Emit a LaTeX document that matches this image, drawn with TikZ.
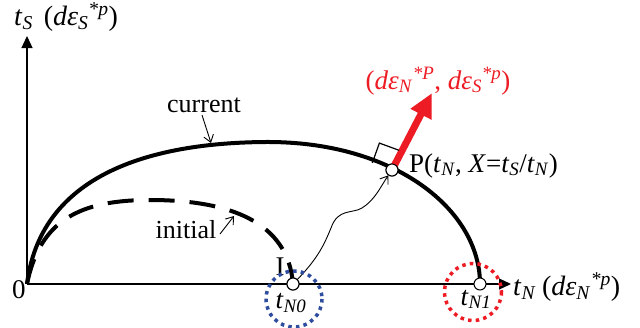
\documentclass[tikz,border=0pt]{standalone}
\usepackage{fontspec}
\setmainfont{Liberation Serif}
\usetikzlibrary{arrows.meta}
\definecolor{myred}{RGB}{237,28,36}
\definecolor{myblue}{RGB}{47,77,158}
\newcommand\ssub[1]{\textsubscript{\textit{#1}}}
\newcommand\ssup[1]{\textsuperscript{\textit{#1}}}
\begin{document}
\begin{tikzpicture}[x=1pt,y=-1pt,
  lbl/.style={inner sep=0pt,font=\fontsize{27}{31}\selectfont},
  axl/.style={inner sep=0pt,font=\fontsize{28}{32}\selectfont},
  bigl/.style={inner sep=0pt,font=\fontsize{26}{30}\selectfont},
  axis/.style={line width=1.3pt,-{Triangle[length=12pt,width=11pt]}},
  thinarrow/.style={line width=0.9pt,-{Straight Barb[length=7pt,width=10pt]}},
  pt/.style={circle,draw=black,fill=white,line width=1pt,minimum size=12pt,inner sep=0pt},
  dotring/.style={line width=3.5pt,dash pattern=on 3.5pt off 4.2pt},
]
\useasboundingbox (0,0) rectangle (640,327);
% axes
\coordinate (O) at (27,284);
\coordinate (xend) at (511,284);
\coordinate (yend) at (27,36);
\draw[axis] (O) -- (xend);
\draw[axis] (O) -- (yend);
% curves
\draw[line width=4pt] (O) .. controls (40,180) and (140,143) .. (265,142)
   .. controls (395,141) and (480,210) .. (480,284);
\draw[line width=4pt,dash pattern=on 26pt off 15pt] (O) .. controls (40,220) and (80,200) .. (150,200)
   .. controls (230,200) and (288,222) .. (293,284);
% points
\node[pt] (P) at (392,170) {};
\node[pt] (N0) at (293,284) {};
\node[pt] (N1) at (480,284) {};
% red arrow
\coordinate (T) at (432,93);
\draw[myred,line width=7pt,-{Triangle[length=24pt,width=22pt]}] (P.center) -- (T);
% right angle square
\draw[line width=1.2pt] (372.3,162.9) -- (379.4,143.1) -- (399.1,150.3);
\node[pt] at (P) {};
% wavy connector
\draw[thinarrow] (N0) .. controls (318,258) and (324,245) .. (331,228)
   .. controls (338,208) and (352,214) .. (362,208)
   .. controls (375,200) and (381,186) .. (P);
\node[pt] at (N0) {};
% labels
\node[bigl,anchor=base] (cur) at (204,112) {current};
\coordinate (curtip) at (211,143);
\draw[thinarrow] (202,115) -- (curtip);
\node[bigl,anchor=base] (ini) at (186,238) {initial};
\coordinate (initip) at (234,216);
\draw[thinarrow] (220,234) -- (initip);
\node[lbl,anchor=base] (zero) at (19,298) {0};
\node[lbl,anchor=base] (Ilab) at (280,275) {I};
\node[lbl,anchor=base west] (Plab) at (409,172) {P(\textit{t}\ssub{N}, \textit{X}=\textit{t}\ssub{S}/\textit{t}\ssub{N})};
\node[lbl,anchor=base,text=myred] (dlab) at (438,89) {(\textit{d}\textit{ε}\ssub{N}\ssup{*P}, \textit{d}\textit{ε}\ssub{S}\ssup{*p})};
\node[axl,anchor=base west] (ylab) at (14,25) {\textit{t}\ssub{S}\hspace{11pt}(\textit{dε}\ssub{S}\ssup{*p})};
\node[axl,anchor=base west] (xlab) at (513,295) {\textit{t}\ssub{N}\hspace{6pt}(\textit{dε}\ssub{N}\ssup{*p})};
\node[lbl,anchor=base] (tn0) at (291,308) {\textit{t}\ssub{N0}};
\node[lbl,anchor=base] (tn1) at (476,305) {\textit{t}\ssub{N1}};
% dotted rings
\draw[dotring,myblue] (294,299) circle[radius=28];
\draw[dotring,myred] (473,292) circle[radius=28.5];
\end{tikzpicture}
\end{document}
